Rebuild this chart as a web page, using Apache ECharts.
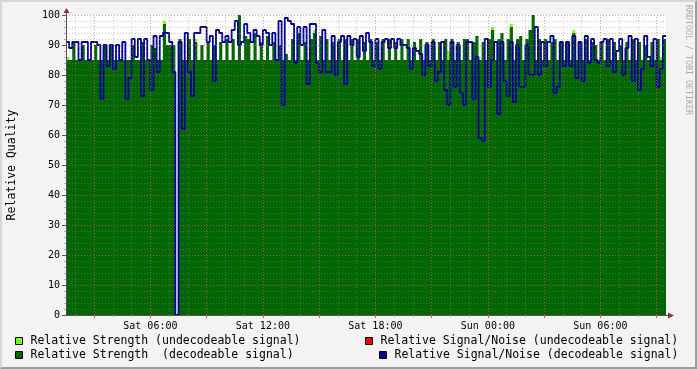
<!DOCTYPE html>
<html><head><meta charset="utf-8">
<script src="https://cdn.jsdelivr.net/npm/echarts/dist/echarts.min.js"></script>
<style>
html,body{margin:0;padding:0;background:#f3f3f3;}
#wrap{position:relative;width:697px;height:369px;}
#chart{position:absolute;left:0;top:0;width:697px;height:369px;}
#frame{position:absolute;left:0;top:0;width:697px;height:369px;box-sizing:border-box;border-style:solid;border-width:2px;border-color:#d6d6d6 #9c9c9c #9c9c9c #d6d6d6;pointer-events:none;}
</style></head>
<body><div id="wrap"><div id="chart"></div><div id="frame"></div></div>
<script>
// ---- data: 10-minute samples from Sat 01:30 to Sun 09:30 ----
const startMinute = 90;      // Sat 01:30
const stepMinutes = 10;
const dayNames = ['Sat', 'Sun'];
const tickLabels = ['Sat 06:00', 'Sat 12:00', 'Sat 18:00', 'Sun 00:00', 'Sun 06:00'];

// Relative Strength (decodeable signal)
const strengthDecodeable = [
  85,85,91,85,85,90,85,85,85,90,85,85,90,85,90,85,85,85,85,85,85,90,85,85,91,85,85,90,89,85,85,97,
  90,90,90,0,92,85,85,92,85,91,85,90,85,91,85,90,85,91,85,92,85,92,85,100,85,93,92,85,94,85,91,85,
  93,85,91,85,90,85,87,85,92,85,94,85,91,85,92,94,85,93,85,92,85,91,85,92,85,92,85,92,85,92,85,91,
  85,92,85,91,85,92,85,92,85,91,85,92,85,92,85,91,85,92,85,91,85,92,85,91,85,92,85,92,85,91,85,92,
  92,85,91,93,85,91,85,92,95,85,92,94,85,92,96,85,92,93,85,92,95,100,85,92,85,92,85,91,92,85,91,85,
  91,85,94,85,91,85,92,85,91,90,85,91,85,92,85,91,85,90,85,91,85,92,85,91,85,90,85,91,85,92,85,92
];
// Relative Strength (undecodeable signal): [sample index, value]
const strengthUndecodeable = [[0,86],[31,98],[41,92],[79,95],[122,88],[136,96],[142,97],[162,95],[190,86]];
// Relative Signal/Noise (decodeable signal)
const snDecodeable = [
  91,89,91,91,85,91,91,85,91,91,90,72,90,83,90,82,90,85,91,72,79,92,86,92,73,92,85,75,93,81,93,94,
  94,91,81,0,91,62,94,81,73,94,94,96,96,91,93,78,95,94,91,93,91,95,98,90,91,97,94,91,95,93,90,95,
  94,90,94,85,98,70,99,98,97,84,96,90,96,77,97,97,84,81,95,81,81,93,80,91,93,77,93,90,92,86,93,88,
  94,91,83,92,82,91,92,89,92,89,92,90,90,89,82,89,88,87,80,90,83,91,78,81,91,75,70,91,76,90,74,70,
  91,91,72,86,59,58,92,76,85,91,67,91,78,73,91,71,90,76,76,90,80,80,96,80,91,83,91,93,74,76,91,83,
  91,83,93,79,91,78,93,84,92,85,84,91,92,83,92,81,88,92,80,89,93,78,92,75,82,93,86,83,92,76,82,93
];
// Relative Signal/Noise (undecodeable signal): no samples in this period
const snUndecodeable = [];

const N = snDecodeable.length;
const categories = [];
for (let i = 0; i < N; i++) {
  const m = startMinute + i * stepMinutes;
  const d = Math.floor(m / 1440), mm = m % 1440;
  const hh = Math.floor(mm / 60), mi = mm % 60;
  categories.push(dayNames[d] + ' ' + String(hh).padStart(2,'0') + ':' + String(mi).padStart(2,'0'));
}
const hourIdx = [], threeHourIdx = [], labelIdx = [];
categories.forEach((c, i) => {
  if (c.endsWith(':00')) {
    hourIdx.push(i);
    if (parseInt(c.slice(4, 6), 10) % 3 === 0) threeHourIdx.push(i);
  }
  if (tickLabels.includes(c)) labelIdx.push(i);
});
const minorOnlyIdx = hourIdx.filter(i => !threeHourIdx.includes(i));

function stepData(arr) { const d = arr.map((v, i) => [i, v]); d.push([N, arr[N - 1]]); return d; }
function sparseStep(pairs) { const d = []; pairs.forEach(([i, v]) => { d.push([i, v], [i + 1, v], [i + 1, null]); }); return d; }

const FONT = '"DejaVu Sans Mono", monospace';
const C_LIGHT = '#80ff00', C_DARK = '#006600', C_RED = '#ff0000', C_BLUE = '#000099';
const MINOR = 'rgba(140,140,140,0.45)', MAJOR = 'rgba(233,95,95,0.65)';

const chart = echarts.init(document.getElementById('chart'), null, {renderer: 'canvas'});
const legendItems = [
  {x: 15.5, y: 337.5, color: C_LIGHT, text: 'Relative Strength (undecodeable signal)', tx: 30.5, ty: 341.5},
  {x: 15.5, y: 351.5, color: C_DARK, text: 'Relative Strength  (decodeable signal)', tx: 30.5, ty: 355.5},
  {x: 365.5, y: 337.5, color: C_RED, text: 'Relative Signal/Noise (undecodeable signal)', tx: 380.5, ty: 341.5},
  {x: 379.5, y: 351.5, color: C_BLUE, text: 'Relative Signal/Noise (decodeable signal)', tx: 394.5, ty: 355.5}
];
const graphics = [];
legendItems.forEach(it => {
  graphics.push({type: 'rect', shape: {x: it.x, y: it.y, width: 7, height: 7}, style: {fill: it.color, stroke: '#000', lineWidth: 1}});
  graphics.push({type: 'text', x: it.tx, y: it.ty, style: {text: it.text, font: '11.5px ' + FONT, fill: '#000', verticalAlign: 'middle'}});
});
graphics.push({type: 'text', x: 688, y: 5, rotation: -Math.PI / 2, style: {text: 'RRDTOOL / TOBI OETIKER', font: '8.3px ' + FONT, fill: '#ababab', verticalAlign: 'middle'}});
// axis arrows
graphics.push({type: 'line', shape: {x1: 66.5, y1: 15, x2: 66.5, y2: 12}, style: {stroke: '#555', lineWidth: 1}});
graphics.push({type: 'polygon', shape: {points: [[63.5, 13], [69.5, 13], [66.5, 8]]}, style: {fill: '#9c2a2a'}});
graphics.push({type: 'line', shape: {x1: 666, y1: 315.5, x2: 669, y2: 315.5}, style: {stroke: '#555', lineWidth: 1}});
graphics.push({type: 'polygon', shape: {points: [[668, 312.5], [668, 318.5], [674, 315.5]]}, style: {fill: '#9c2a2a'}});

function gridLines(name, idx, color) {
  return {name: name, type: 'line', xAxisIndex: 0, data: [], silent: true, z: 4, symbol: 'none',
    markLine: {silent: true, symbol: 'none', animation: false, label: {show: false}, emphasis: {disabled: true},
      lineStyle: {color: color, type: [1, 2], width: 1},
      data: idx.map(i => ({xAxis: i}))}};
}

chart.setOption({
  animation: false,
  backgroundColor: 'transparent',
  grid: {left: 66, top: 15, width: 600, height: 300, show: true, backgroundColor: '#ffffff', borderWidth: 0,
    containLabel: false, outerBoundsMode: 'none'},
  xAxis: [
    {type: 'value', min: 0, max: N, position: 'bottom', z: 5,
      axisLine: {show: true, onZero: false, lineStyle: {color: '#555', width: 1}},
      axisTick: {show: true, customValues: hourIdx, length: 2, lineStyle: {color: '#aaa'}},
      axisLabel: {customValues: labelIdx, formatter: (v) => categories[Math.round(v)], fontFamily: FONT, fontSize: 10, color: '#000', margin: 6},
      splitLine: {show: false}},
    {type: 'value', min: 0, max: N, position: 'bottom', offset: 0, z: 6,
      axisLine: {show: false, onZero: false}, axisLabel: {show: false},
      axisTick: {show: true, customValues: threeHourIdx, length: 3, lineStyle: {color: '#e05050'}},
      splitLine: {show: false}}
  ],
  yAxis: {type: 'value', min: 0, max: 100, interval: 10, z: 5,
    axisLine: {show: true, lineStyle: {color: '#555'}},
    axisTick: {show: true, length: 4, lineStyle: {color: '#555'}},
    minorTick: {show: true, splitNumber: 5, length: 2, lineStyle: {color: '#aaa'}},
    axisLabel: {fontFamily: FONT, fontSize: 10, color: '#000', margin: 6},
    splitLine: {show: true, lineStyle: {color: MAJOR, type: [1, 2], width: 1}},
    minorSplitLine: {show: true, lineStyle: {color: MINOR, type: [1, 2], width: 1}},
    name: 'Relative Quality', nameLocation: 'middle', nameGap: 48, nameRotate: 90,
    nameTextStyle: {fontFamily: FONT, fontSize: 11.5, color: '#000'}},
  graphic: graphics,
  series: [
    {name: 'Relative Strength (undecodeable signal)', type: 'line', xAxisIndex: 0, step: 'end', symbol: 'none', z: 1,
      data: sparseStep(strengthUndecodeable), connectNulls: false,
      lineStyle: {width: 0, color: C_LIGHT}, areaStyle: {color: C_LIGHT, opacity: 1}},
    {name: 'Relative Strength (decodeable signal)', type: 'line', xAxisIndex: 0, step: 'end', symbol: 'none', z: 2,
      data: stepData(strengthDecodeable),
      lineStyle: {width: 0, color: C_DARK}, areaStyle: {color: C_DARK, opacity: 1}},
    {name: 'Relative Signal/Noise (undecodeable signal)', type: 'line', xAxisIndex: 0, step: 'end', symbol: 'none', z: 3,
      data: snUndecodeable, lineStyle: {width: 1.8, color: C_RED}},
    {name: 'Relative Signal/Noise (decodeable signal)', type: 'line', xAxisIndex: 0, step: 'end', symbol: 'none', z: 3,
      data: stepData(snDecodeable), lineStyle: {width: 1.8, color: C_BLUE}},
    gridLines('hour grid', minorOnlyIdx, MINOR),
    gridLines('3-hour grid', threeHourIdx, MAJOR)
  ]
});
</script></body></html>
